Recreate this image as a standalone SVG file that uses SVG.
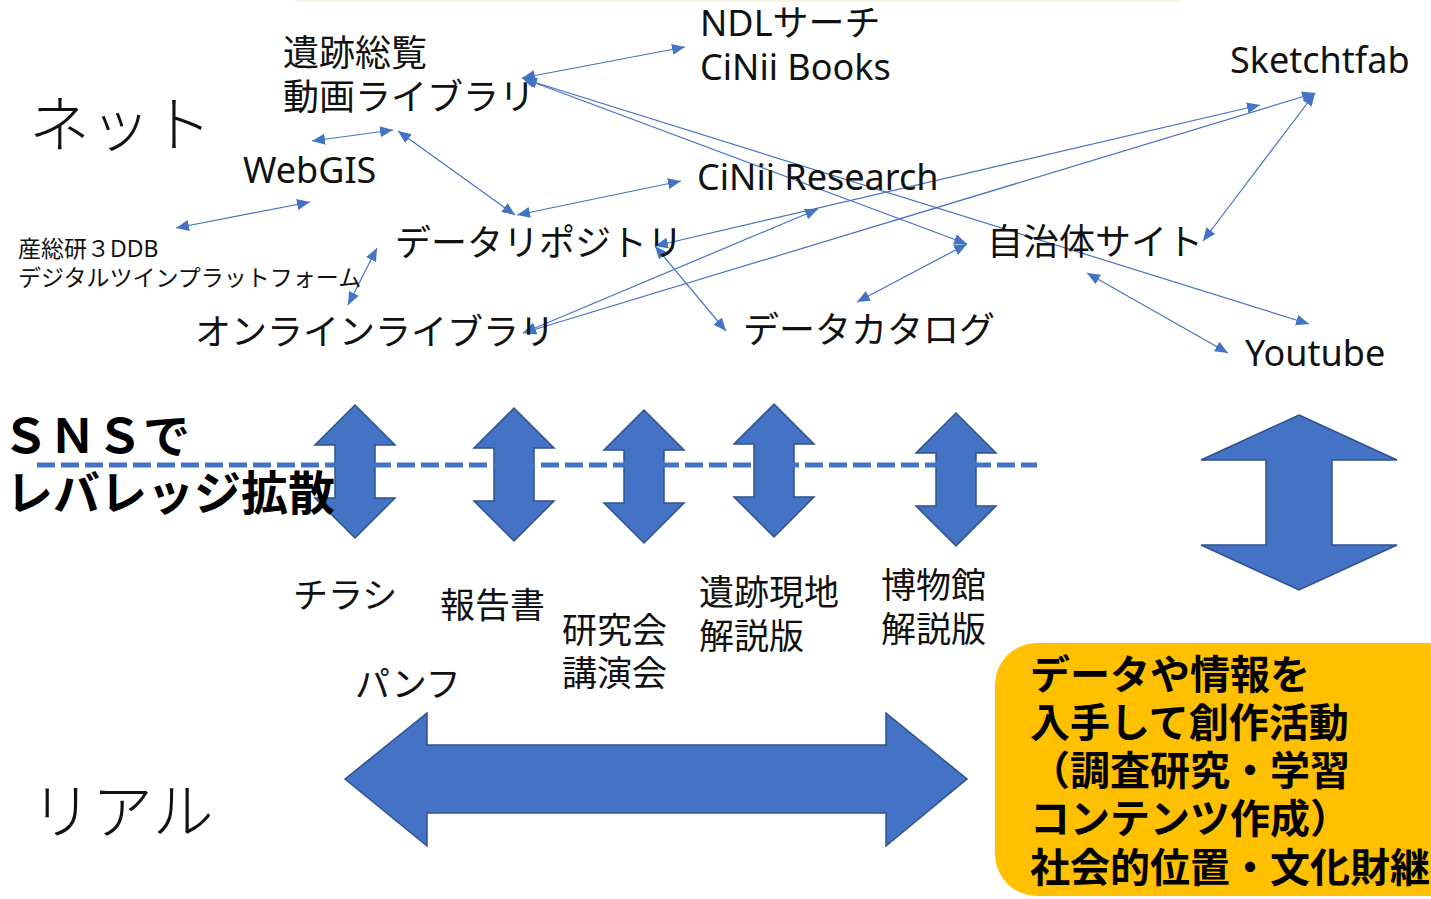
<svg xmlns="http://www.w3.org/2000/svg" width="1431" height="899" viewBox="0 0 1431 899">
<style>
.t{font-family:"Noto Sans","Noto Sans CJK JP",sans-serif;fill:#111}
.big{font-size:61px;font-weight:300}
.lbl{font-size:36px}
.sm{font-size:23px}
.mid{font-size:35px}
.bold{font-size:47px;font-weight:700;fill:#000}
.yb{font-size:40px;font-weight:700;fill:#000}
.conn line{stroke:#4472C4;stroke-width:1.2;fill:none;marker-start:url(#ah);marker-end:url(#ah)}
.blk{fill:#4472C4;stroke:#2F528F;stroke-width:1.5;stroke-linejoin:miter}
</style>
<defs>
<marker id="ah" markerUnits="userSpaceOnUse" markerWidth="13" markerHeight="11" viewBox="0 0 13 11" refX="13" refY="5.5" orient="auto-start-reverse">
<path d="M0,0 L13,5.5 L0,11 z" fill="#4472C4"/>
</marker>
</defs>
<rect width="1431" height="899" fill="#fff"/>
<rect x="295" y="0" width="886" height="2" fill="#FBF2E2"/>

<g id="label-net"><text class="t big" x="29" y="147">ネット</text></g>
<g id="label-real"><text class="t big" x="31" y="834">リアル</text></g>

<g id="connectors" class="conn">
<line x1="312" y1="141" x2="393" y2="130"/>
<line x1="398" y1="131" x2="515" y2="215"/>
<line x1="176" y1="228" x2="310" y2="202"/>
<line x1="377" y1="248" x2="348" y2="305"/>
<line x1="522" y1="78" x2="685" y2="47"/>
<line x1="522" y1="78" x2="967" y2="244"/>
<line x1="967" y1="244" x2="857" y2="302"/>
<line x1="524" y1="79" x2="1309" y2="324"/>
<line x1="517" y1="215" x2="681" y2="181"/>
<line x1="655" y1="246" x2="1260" y2="105"/>
<line x1="523" y1="333" x2="818" y2="209"/>
<line x1="523" y1="333" x2="1315" y2="93"/>
<line x1="1315" y1="93" x2="1203" y2="241"/>
<line x1="1087" y1="273" x2="1228" y2="353"/>
<line x1="655" y1="246" x2="726" y2="331"/>
</g>

<g id="node-iseki"><text class="t lbl" x="283" y="66">遺跡総覧</text><text class="t lbl" x="283" y="110">動画ライブラリ</text></g>
<g id="node-ndl"><text class="t lbl" x="700" y="36">NDLサーチ</text><text class="t lbl" x="700" y="80">CiNii Books</text></g>
<g id="node-sketchfab"><text class="t lbl" x="1230" y="73">Sketchtfab</text></g>
<g id="node-webgis"><text class="t lbl" x="243" y="183">WebGIS</text></g>
<g id="node-cinii-research"><text class="t lbl" x="697" y="190">CiNii Research</text></g>
<g id="node-aist"><text class="t sm" x="18" y="257">産総研３DDB</text><text class="t sm" x="18" y="286">デジタルツインプラットフォーム</text></g>
<g id="node-repository"><text class="t lbl" x="395" y="256">データリポジトリ</text></g>
<g id="node-municipal"><text class="t lbl" x="987" y="255">自治体サイト</text></g>
<g id="node-online-library"><text class="t lbl" x="195" y="345">オンラインライブラリ</text></g>
<g id="node-catalog"><text class="t lbl" x="743" y="343">データカタログ</text></g>
<g id="node-youtube"><text class="t lbl" x="1245" y="366">Youtube</text></g>

<g id="vertical-arrows">
<polygon class="blk" points="355,405 395,445 375,445 375,498 395,498 355,538 315,498 335,498 335,445 315,445"/>
<polygon class="blk" points="514,408 554,448 534,448 534,501 554,501 514,541 474,501 494,501 494,448 474,448"/>
<polygon class="blk" points="644,410 684,450 664,450 664,503 684,503 644,543 604,503 624,503 624,450 604,450"/>
<polygon class="blk" points="774,404 814,444 794,444 794,497 814,497 774,537 734,497 754,497 754,444 734,444"/>
<polygon class="blk" points="956,413 996,453 976,453 976,506 996,506 956,546 916,506 936,506 936,453 916,453"/>
<polygon class="blk" points="1299,415 1397,460 1332,460 1332,545 1397,545 1299,590 1201,545 1266,545 1266,460 1201,460"/>
</g>

<g id="sns-line"><line x1="37" y1="465" x2="1037" y2="465" stroke="#4472C4" stroke-width="5" stroke-dasharray="18 6"/></g>

<g id="label-sns"><text class="t bold" x="2" y="453">ＳＮＳで</text><text class="t bold" x="6" y="510">レバレッジ拡散</text></g>

<g id="node-chirashi"><text class="t mid" x="293" y="608">チラシ</text></g>
<g id="node-report"><text class="t mid" x="440" y="618">報告書</text></g>
<g id="node-lecture"><text class="t mid" x="562" y="643">研究会</text><text class="t mid" x="562" y="686">講演会</text></g>
<g id="node-site-panel"><text class="t mid" x="699" y="605">遺跡現地</text><text class="t mid" x="699" y="649">解説版</text></g>
<g id="node-museum-panel"><text class="t mid" x="881" y="598">博物館</text><text class="t mid" x="881" y="642">解説版</text></g>
<g id="node-pamph"><text class="t mid" x="355" y="697">パンフ</text></g>

<g id="horizontal-arrow">
<polygon class="blk" points="345,779 427,713 427,745 886,745 886,713 967,779 886,846 886,813 427,813 427,846"/>
</g>

<g id="node-creation">
<rect x="995" y="643" width="480" height="253" rx="42" ry="42" fill="#FFC000"/>
<text class="t yb" x="1030" y="689">データや情報を</text>
<text class="t yb" x="1030" y="737">入手して創作活動</text>
<text class="t yb" x="1030" y="785">（調査研究・学習</text>
<text class="t yb" x="1030" y="833">コンテンツ作成）</text>
<text class="t yb" x="1030" y="882">社会的位置・文化財継</text>
</g>
</svg>
